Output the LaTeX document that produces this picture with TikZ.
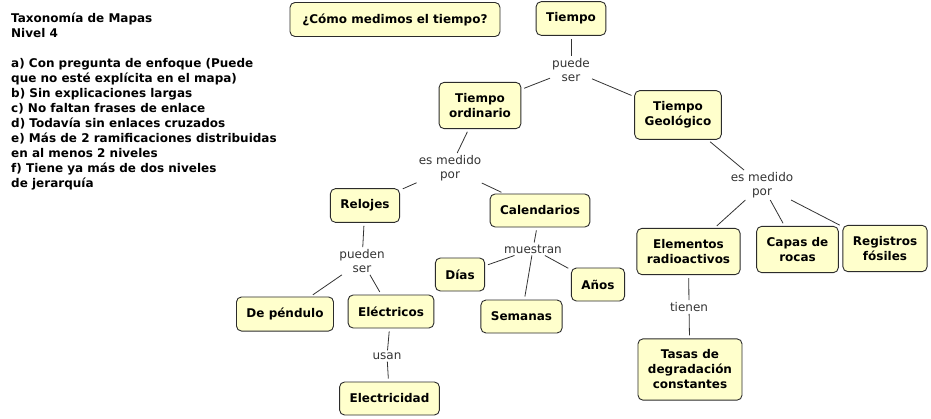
\documentclass[tikz,border=0pt]{standalone}
\usepackage{fontspec}
\setmainfont{DejaVu Sans}
\usepackage{xcolor}
\usepackage{tikz}
\usetikzlibrary{positioning}
\definecolor{ConceptFill}{HTML}{FFFFCC}
\definecolor{ConceptLine}{HTML}{2B2B2B}
\definecolor{LinkGray}{HTML}{333333}

\tikzset{
  concept/.style={draw=ConceptLine, line width=0.9pt, fill=ConceptFill, rounded corners=5pt,
    align=center, inner xsep=10pt, inner ysep=11pt, minimum height=33pt,
    font=\fontsize{12}{15}\selectfont\bfseries},
  linkword/.style={align=center, inner sep=2pt, text=LinkGray,
    font=\fontsize{12}{14}\selectfont},
  link/.style={draw=LinkGray, line width=0.8pt}
}

\begin{document}
\begin{tikzpicture}[x=1pt, y=-1pt]
      \useasboundingbox (0,0) rectangle (931,418);
      % notes
      \node[anchor=north west, inner sep=0pt, align=left,
            font=\fontsize{12}{15}\selectfont\bfseries] (notes) at (11,13)
        {Taxonomía de Mapas\\Nivel 4\\[15pt]
         a) Con pregunta de enfoque (Puede\\que no esté explícita en el mapa)\\
         b) Sin explicaciones largas\\c) No faltan frases de enlace\\
         d) Todavía sin enlaces cruzados\\e) Más de 2 ramificaciones distribuidas\\
         en al menos 2 niveles\\f) Tiene ya más de dos niveles\\de jerarquía};
      % concepts
      \node[concept, minimum width=210pt] (pregunta) at (395,19.5) {¿Cómo medimos el tiempo?};
      \node[concept] (tiempo) at (571,18.5) {Tiempo};
      \node[concept] (ordinario) at (480,105.5) {Tiempo\\ordinario};
      \node[concept] (geologico) at (678,115) {Tiempo\\Geológico};
      \node[concept] (relojes) at (365,205.5) {Relojes};
      \node[concept] (calendarios) at (540,210.5) {Calendarios};
      \node[concept] (dias) at (460,274.5) {Días};
      \node[concept] (anos) at (598,284.5) {Años};
      \node[concept] (semanas) at (521.5,316.5) {Semanas};
      \node[concept] (pendulo) at (285,314) {De péndulo};
      \node[concept] (electricos) at (391,311.5) {Eléctricos};
      \node[concept] (electricidad) at (389.5,398.5) {Electricidad};
      \node[concept] (elementos) at (688.5,251.5) {Elementos\\radioactivos};
      \node[concept] (capas) at (797.5,249.5) {Capas de\\rocas};
      \node[concept] (registros) at (885,248.5) {Registros\\fósiles};
      \node[concept] (tasas) at (690,369.5) {Tasas de\\degradación\\constantes};
      % linking words
      \node[linkword] (puede) at (571,70) {puede\\ser};
      \node[linkword] (medidoA) at (450,168) {es medido\\por};
      \node[linkword] (medidoB) at (762,185) {es medido\\por};
      \node[linkword] (pueden) at (362,261) {pueden\\ser};
      \node[linkword] (muestran) at (533,249) {muestran};
      \node[linkword] (usan) at (387,356) {usan};
      \node[linkword] (tienen) at (689,307) {tienen};
      % links
      \draw[link, shorten <=3pt] (tiempo) -- (puede);
      \draw[link, shorten >=3pt] (puede) -- (ordinario);
      \draw[link, shorten >=3pt] (puede) -- (geologico);
      \draw[link, shorten <=3pt] (ordinario) -- (medidoA);
      \draw[link, shorten >=3pt] (medidoA) -- (relojes);
      \draw[link, shorten >=3pt] (medidoA) -- (calendarios);
      \draw[link, shorten <=3pt] (relojes) -- (pueden);
      \draw[link, shorten >=3pt] (pueden) -- (pendulo);
      \draw[link, shorten >=3pt] (pueden) -- (electricos);
      \draw[link, shorten <=3pt] (electricos) -- (usan);
      \draw[link, shorten >=3pt] (usan) -- (electricidad);
      \draw[link, shorten <=3pt] (calendarios) -- (muestran);
      \draw[link, shorten >=3pt] (muestran) -- (dias);
      \draw[link, shorten >=3pt] (muestran) -- (semanas);
      \draw[link, shorten >=3pt] (muestran) -- (anos);
      \draw[link, shorten <=3pt] (geologico) -- (medidoB);
      \draw[link, shorten >=3pt] (medidoB) -- (elementos);
      \draw[link, shorten >=3pt] (medidoB) -- (capas);
      \draw[link, shorten >=3pt] (medidoB) -- (registros);
      \draw[link, shorten <=3pt] (elementos) -- (tienen);
      \draw[link, shorten >=3pt] (tienen) -- (tasas);
    \end{tikzpicture}
\end{document}
